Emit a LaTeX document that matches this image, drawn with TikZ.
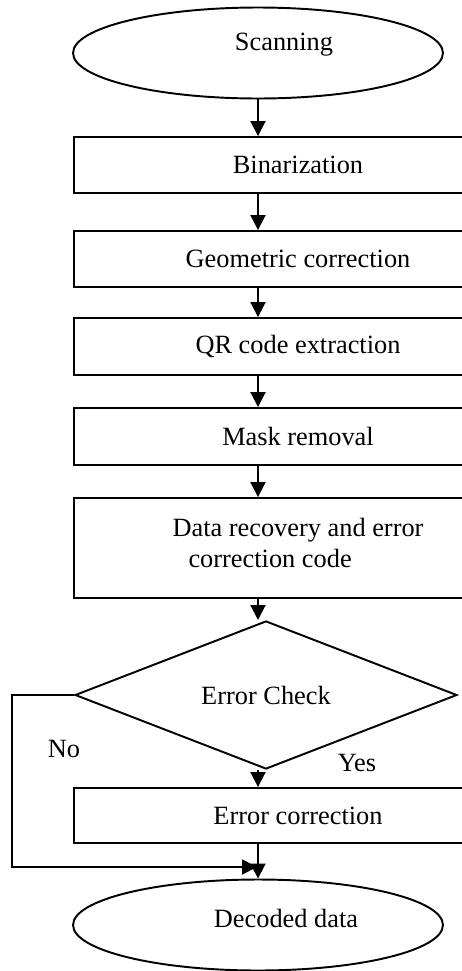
\documentclass[tikz,border=0pt]{standalone}
\usepackage{fontspec}
\setmainfont{Liberation Serif}
\usetikzlibrary{arrows.meta,shapes.geometric}

\begin{document}
\begin{tikzpicture}[x=0.02cm, y=-0.02cm,
		every node/.style={font=\fontsize{15}{18}\selectfont},
		terminal/.style={draw, line width=1.1pt, ellipse, minimum width=7.4cm, minimum height=1.82cm, inner sep=0pt},
		stage/.style={draw, line width=1.1pt, rectangle, minimum width=8.96cm, inner sep=0pt},
		check/.style={draw, line width=1.1pt, diamond, minimum width=7.64cm, minimum height=2.28cm, inner sep=0pt},
		flow/.style={line width=1.1pt, -{Triangle[length=0.3cm, width=0.3cm]}}]
			%%%%% START %%%%%
			
			\useasboundingbox (0, 0) rectangle (462, 971);
			
			\node[terminal, label={[shift={(26, -8)}]center:Scanning}] (scan) at (258, 53) {};
			
			\node[stage, minimum height=1.12cm] (bin) at (298, 165) {Binarization};
			\node[stage, minimum height=1.12cm] (geo) at (298, 259) {Geometric correction};
			\node[stage, minimum height=1.14cm] (qr) at (298, 346.5) {QR code extraction};
			\node[stage, minimum height=1.14cm] (mask) at (298, 436.5) {Mask removal};
			\node[stage, minimum height=2cm, label={[shift={(0, -5)}, align=left]center:{Data recovery and error\\\hspace*{0.32cm}correction code}}] (data) at (298, 548) {};
			
			\node[check] (chk) at (266, 695) {Error Check};
			\node (no) at (64, 749) {No};
			\node (yes) at (357, 763) {Yes};
			
			\node[stage, minimum height=1.1cm] (err) at (298, 815.5) {Error correction};
			\node[terminal, label={[shift={(28, -7)}]center:Decoded data}] (dec) at (258, 925) {};
			\coordinate (join) at (257, 867);
			
			\draw[flow] (scan) -- (scan |- bin.north);
			\draw[flow] (bin.south -| scan) -- (geo.north -| scan);
			\draw[flow] (geo.south -| scan) -- (qr.north -| scan);
			\draw[flow] (qr.south -| scan) -- (mask.north -| scan);
			\draw[flow] (mask.south -| scan) -- (data.north -| scan);
			\draw[flow] (data.south -| scan) -- (chk.north -| scan);
			\draw[flow] (chk.south -| scan) -- (err.north -| scan);
			\draw[flow] (err.south -| scan) -- (dec.north);
			\draw[flow] (chk.west) -- ++(-62, 0) |- (join);
			
			%%%%% END %%%%%
		\end{tikzpicture}
\end{document}
